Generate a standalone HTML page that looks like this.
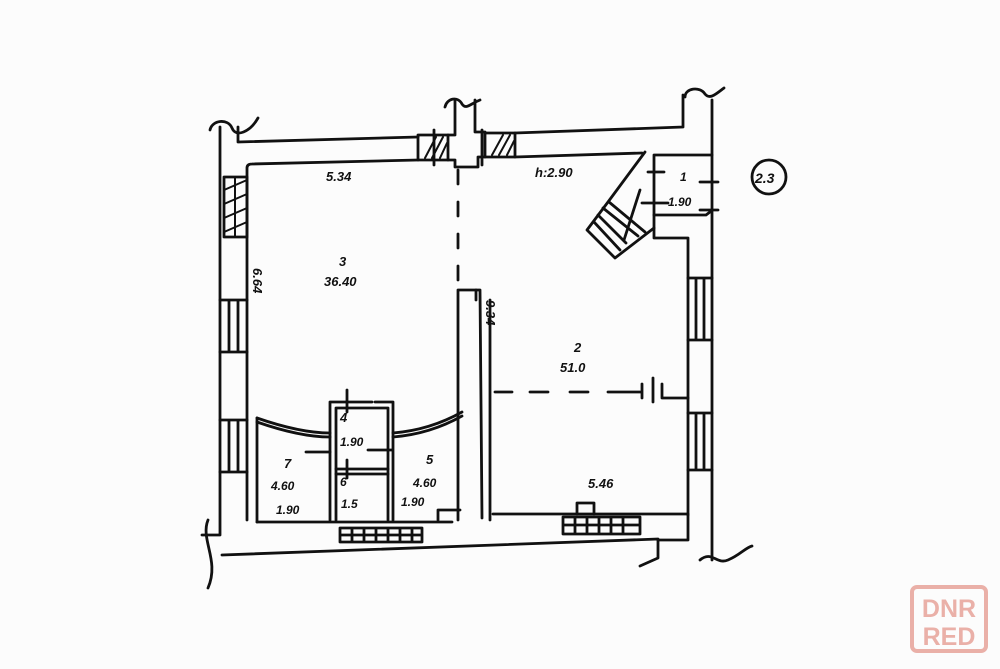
<!DOCTYPE html>
<html><head><meta charset="utf-8"><style>
html,body{margin:0;padding:0;background:#fff}
svg{display:block}
text{font-family:"Liberation Sans",sans-serif;font-style:italic;font-weight:bold;fill:#111}
</style></head><body>
<svg width="1000" height="669" viewBox="0 0 1000 669" xmlns="http://www.w3.org/2000/svg">
<rect width="1000" height="669" fill="#fcfcfc"/>
<g fill="none" stroke="#111" stroke-width="2.8" stroke-linecap="round" stroke-linejoin="round">
<path d="M220 127 V535 H202"/>
<path d="M208 520 C200 540 220 560 208 588"/>
<path d="M210 130 C212 120 228 118 232 128 C236 138 250 132 258 118"/>
<path d="M238 127 V142 L418 137"/>
<path d="M247 520 V168 Q247 164 252 164 L418 160"/>
<path d="M418 135 H448 V160 H418 Z"/>
<path d="M485 133 H515 V157 H485 Z"/>
<path d="M425 158 L436 137 M432 158 L443 137 M440 158 L447 143 M492 155 L503 135 M499 155 L510 135 M507 155 L514 141" stroke-width="2"/>
<path d="M515 133 L683 127 V95"/>
<path d="M515 157 L642 153"/>
<path d="M448 135 H455 V100 M475 100 V132 H485 M448 160 H455 V167 H478 V157 H485"/>
<path d="M445 107 C447 98 458 96 462 104 C466 110 470 104 480 100"/>
<path d="M434 130 V165 M482 130 V165"/>
<path d="M712 100 V560"/>
<path d="M685 97 C685 88 700 86 705 94 C710 100 716 94 724 88"/>
<path d="M654 155 H712 M654 155 V238 H688 V515"/>
<path d="M654 215 H706 L710 212"/>
<path d="M648 172 H664 M642 203 H668 M700 182 H718 M700 210 H718"/>
<!-- stair -->
<path d="M645 152 L608 202 L587 230 L615 258 L654 228"/>
<path d="M598 215 L626 243 M603 208 L638 236 M609 202 L645 232 M594 222 L620 250"/>
<path d="M640 190 L624 240"/>
<path d="M224 177 H247 V237 H224 Z"/>
<path d="M224 190 L247 180 M224 204 L247 194 M224 218 L247 208 M224 232 L247 222 M235 178 V236" stroke-width="2"/>
<path d="M220 300 H247 M220 352 H247 M229 300 V352 M238 300 V352"/>
<path d="M220 420 H247 M220 472 H247 M229 420 V472 M238 420 V472"/>
<path d="M688 278 H712 M688 340 H712 M696 278 V340 M704 278 V340"/>
<path d="M688 413 H712 M688 470 H712 M696 413 V470 M704 413 V470"/>
<path d="M458 170 V280" stroke-dasharray="14 18"/>
<path d="M458 520 V290 H473 L480 290 L482 518 M490 520 V300"/>
<path d="M476 290 V300"/>
<path d="M257 522 H452 M493 514 H688"/>
<path d="M257 418 V522"/>
<path d="M222 555 L658 539 V558 L640 566"/>
<path d="M688 515 V540 H658"/>
<path d="M700 560 C712 550 716 565 728 560 C740 555 745 548 752 546"/>
<path d="M340 528 H422 V542 H340 Z M340 535 H422 M352 528 V542 M364 528 V542 M376 528 V542 M388 528 V542 M400 528 V542 M412 528 V542"/>
<path d="M563 517 H640 V534 H563 Z M563 525 H640 M575 517 V534 M587 517 V534 M599 517 V534 M611 517 V534 M623 517 V534"/>
<path d="M577 514 V503 H594 V514"/>
<path d="M438 520 V510 H460"/>
<path d="M330 520 V402 H372 M393 520 V402 H375"/>
<path d="M336 520 V408 H388 V520"/>
<path d="M336 469 H388 M336 474 H388"/>
<path d="M347 390 V412 M347 460 V478 M306 452 H330 M368 450 H392"/>
<path d="M257 418 Q300 433 330 433 M257 422 Q300 437 330 437"/>
<path d="M393 433 Q430 430 462 412 M393 437 Q430 434 462 416"/>
<path d="M495 392 H512 M530 392 H548 M570 392 H588 M608 392 H640 M642 384 V398 M653 378 V402 M662 384 V398 H688" />
<circle cx="769" cy="177" r="17"/>
</g>
<g font-size="13">
<text x="326" y="181">5.34</text>
<text x="535" y="177">h:2.90</text>
<text x="680" y="181" font-size="12">1</text>
<text x="668" y="206" font-size="12">1.90</text>
<text x="339" y="266">3</text>
<text x="324" y="286">36.40</text>
<text x="574" y="352">2</text>
<text x="560" y="372">51.0</text>
<text x="340" y="422">4</text>
<text x="340" y="446" font-size="12">1.90</text>
<text x="340" y="486" font-size="12">6</text>
<text x="341" y="508" font-size="12">1.5</text>
<text x="284" y="468">7</text>
<text x="271" y="490" font-size="12">4.60</text>
<text x="276" y="514" font-size="12">1.90</text>
<text x="426" y="464">5</text>
<text x="413" y="487" font-size="12">4.60</text>
<text x="401" y="506" font-size="12">1.90</text>
<text x="588" y="488">5.46</text>
<text x="755" y="183" font-size="14">2.3</text>
<text transform="translate(253 268) rotate(90)" font-size="13">6.64</text>
<text transform="translate(486 300) rotate(90)" font-size="13">9.34</text>
</g>
<rect x="912" y="587" width="74" height="64" rx="5" fill="none" stroke="#eab0a8" stroke-width="4"/>
<text x="949" y="617" text-anchor="middle" font-size="25" style="font-style:normal;fill:#eab0a8">DNR</text>
<text x="949" y="645" text-anchor="middle" font-size="25" style="font-style:normal;fill:#eab0a8">RED</text>
</svg>
</body></html>
